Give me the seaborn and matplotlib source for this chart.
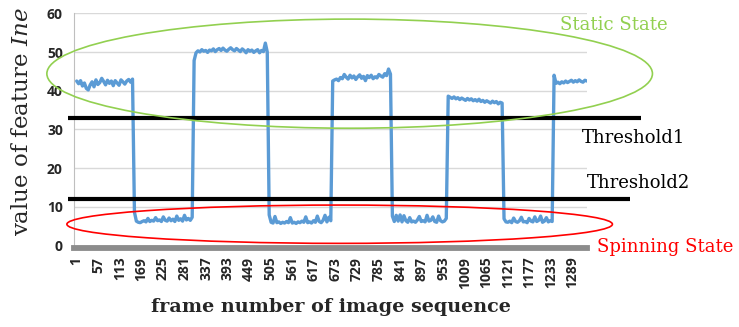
import numpy as np
import pandas as pd
import matplotlib
matplotlib.use("Agg")
import matplotlib.pyplot as plt
from matplotlib.patches import Ellipse
import seaborn as sns

# ---------------- data ----------------
frame_step = 5
static_1 = [42.5, 41.8, 42.6, 41.2, 42.0, 40.6, 40.2, 41.5, 42.3, 41.0, 42.8, 41.6, 42.1, 43.2, 42.4,
            41.5, 42.7, 41.9, 42.5, 41.3, 42.6, 42.0, 41.4, 42.8, 42.3, 41.7, 42.5, 42.9, 42.2, 43.0]
spin_1 = [8.6, 6.3, 6.0, 5.9, 6.2, 6.4, 6.1, 7.0, 6.2, 6.5, 6.3, 7.2, 6.4, 6.6, 6.2, 7.4, 6.5, 6.3,
          7.1, 6.4, 6.8, 6.2, 7.6, 6.5, 6.9, 6.3, 7.8, 6.6, 7.0, 6.5, 7.3]
static_2 = [47.8, 49.8, 50.3, 50.0, 50.6, 50.2, 50.4, 49.9, 50.5, 50.3, 50.8, 50.1, 50.6, 50.9, 50.4,
            51.0, 50.5, 50.2, 50.7, 51.1, 50.6, 50.3, 50.9, 50.5, 50.1, 50.8, 50.4, 49.8, 50.6, 50.2,
            50.5, 49.9, 50.3, 50.6, 49.8, 50.4, 50.1, 52.3, 50.0]
spin_2 = [7.9, 6.0, 5.8, 7.5, 5.9, 6.1, 5.7, 6.0, 5.8, 6.2, 5.9, 7.2, 5.8, 6.0, 5.7, 6.1, 5.9, 6.3,
          6.0, 7.4, 5.9, 6.1, 5.8, 6.4, 6.0, 7.6, 6.2, 5.9, 6.5, 7.8, 6.1, 7.3, 6.4]
static_3 = [42.5, 42.8, 43.0, 42.6, 43.4, 43.1, 44.2, 43.5, 43.0, 44.0, 43.3, 43.8, 42.9, 43.6, 44.1,
            43.2, 43.7, 42.6, 43.9, 43.4, 44.0, 43.1, 43.6, 43.3, 44.2, 43.8, 43.5, 44.4, 43.9, 45.6, 44.3]
spin_3 = [7.6, 6.2, 7.8, 6.3, 7.9, 6.1, 7.7, 6.4, 6.0, 7.2, 6.1, 6.3, 6.0, 6.6, 7.5, 6.2, 6.4, 6.1,
          7.8, 6.3, 6.5, 7.4, 6.2, 6.0, 7.6, 6.4, 6.1, 6.3, 7.0]
static_4 = [38.6, 38.3, 38.0, 38.4, 37.9, 38.2, 37.7, 38.1, 37.8, 37.5, 38.0, 37.6, 37.9, 37.4, 37.7,
            37.3, 37.8, 37.2, 37.5, 37.0, 37.4, 37.1, 36.8, 37.3, 36.9, 37.2, 36.6, 37.0, 36.8]
spin_4 = [6.9, 6.1, 6.0, 6.3, 5.9, 7.1, 6.2, 6.0, 6.4, 7.3, 6.1, 6.2, 5.9, 7.0, 6.3, 6.1, 7.4, 6.2,
          6.5, 7.6, 6.0, 6.3, 7.2, 6.1, 6.4, 6.2]
static_5 = [44.0, 41.9, 42.2, 41.8, 42.3, 42.0, 42.5, 42.1, 42.4, 42.7, 42.2, 42.6, 42.3, 42.8, 42.4,
            42.2, 42.7, 42.5]

tick_labels = ["1", "57", "113", "169", "225", "281", "337", "393", "449", "505", "561", "617",
               "673", "729", "785", "841", "897", "953", "1009", "1065", "1121", "1177", "1233", "1289"]
threshold1 = 32.9
threshold2 = 12.0

values = (static_1 + spin_1 + static_2 + spin_2 + static_3 + spin_3 + static_4 + spin_4 + static_5)
frames = 1 + frame_step * np.arange(len(values))
df = pd.DataFrame({"frame": frames, "Ine": values})

# ---------------- style ----------------
sns.set_style("white")
plt.rcParams["font.family"] = ["DejaVu Serif"]
plt.rcParams["mathtext.fontset"] = "custom"
plt.rcParams["mathtext.rm"] = "DejaVu Serif"
plt.rcParams["mathtext.it"] = "DejaVu Serif:italic"

W, H = 739, 327
fig = plt.figure(figsize=(W / 100, H / 100), dpi=100)
ax_l, ax_r, ax_t, ax_b = 74, 587, 13.3, 245.5
ax = fig.add_axes([ax_l / W, 1 - ax_b / H, (ax_r - ax_l) / W, (ax_b - ax_t) / H])

sns.lineplot(data=df, x="frame", y="Ine", ax=ax, color="#5B9BD5", linewidth=2.4, zorder=3)

ax.set_xlim(-6, 1326.5)
ax.set_ylim(0, 60)
ax.set_yticks(range(0, 61, 10))
ax.grid(axis="y", color="#D9D9D9", linewidth=1.0)
ax.set_axisbelow(True)

ticks = [int(t) for t in tick_labels]
ax.set_xticks(ticks)
ax.set_xticklabels(tick_labels)
ax.tick_params(axis="x", length=0, pad=6.5, labelrotation=90)
ax.tick_params(axis="y", length=4, color="#D9D9D9", width=1, pad=4)

for s in ["top", "right"]:
    ax.spines[s].set_visible(False)
ax.spines["left"].set_color("#BFBFBF")
ax.spines["left"].set_linewidth(0.8)
ax.spines["bottom"].set_color("#8C8C8C")
ax.spines["bottom"].set_linewidth(4.2)
ax.spines["bottom"].set_position(("outward", 1.6))
ax.spines["bottom"].set_zorder(4)

ax.set_xlabel("frame number of image sequence", fontsize=13.8, fontweight="bold")
ax.xaxis.set_label_coords(0.5, -(307 - ax_b) / (ax_b - ax_t))
ax.xaxis.label.set_va("center")
ax.set_ylabel("value of feature $\\mathit{Ine}$", fontsize=16.5)
ax.yaxis.set_label_coords(-(74 - 22) / (ax_r - ax_l), (ax_b - 121.5) / (ax_b - ax_t))
ax.yaxis.label.set_va("center")

# threshold lines
ax.hlines(threshold1, -21.6, 1467, color="black", linewidth=3.0, clip_on=False, zorder=4)
ax.hlines(threshold2, -21.6, 1437, color="black", linewidth=3.0, clip_on=False, zorder=4)

# state ellipses (data coordinates)
ax.add_patch(Ellipse((710, 44.4), 1573, 28.2, fill=False, edgecolor="#92D050",
                     linewidth=1.2, clip_on=False, zorder=5))
ax.add_patch(Ellipse((684, 5.5), 1417, 9.9, fill=False, edgecolor="#FF0000",
                     linewidth=1.2, clip_on=False, zorder=5))

def ftext(x, y, s, **kw):
    fig.text(x / W, 1 - y / H, s, ha="left", va="center", **kw)

ftext(560, 25, "Static State", color="#92D050", fontsize=13)
ftext(582, 138, "Threshold1", color="black", fontsize=13)
ftext(587, 183, "Threshold2", color="black", fontsize=13)
ftext(597, 247, "Spinning State", color="#FF0000", fontsize=13)

# tick label fonts (applied last so nothing resets them)
for lab in ax.get_xticklabels():
    lab.set_rotation(90)
    lab.set_fontfamily("Open Sans")
    lab.set_fontweight("bold")
    lab.set_fontsize(10)
    lab.set_va("top")
    lab.set_ha("center")
for lab in ax.get_yticklabels():
    lab.set_fontfamily("Open Sans")
    lab.set_fontweight("bold")
    lab.set_fontsize(10)

fig.savefig("out.png", dpi=100)
